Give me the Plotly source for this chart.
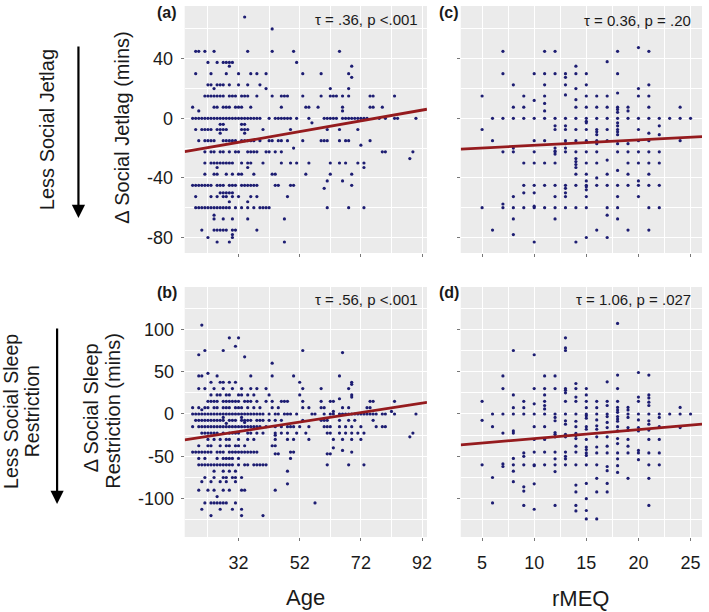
import plotly.graph_objects as go

W, H = 709, 612

# ---------------- Panel (a): Age vs Δ Social Jetlag (mins) ----------------
# each entry of A_LEVELS is a Δ value; A_AGES holds the ages of the dots on that level
A_LEVELS = [68, 60, 45, 37.5, 35, 30, 27.5, 22.5, 20, 15, 7.5, 5, 0, -3, -4, -7.5, -10,
            -15, -18, -20, -22.5, -27, -30, -33, -37.5, -42, -45, -47, -50, -52.5, -56,
            -60, -65, -67.5, -75, -78, -80, -83]
A_AGES = [
    [34],
    [43],
    [18, 19, 21, 24, 35, 43, 50, 65],
    [22, 25, 27, 28, 29, 30, 51],
    [29, 69],
    [18, 23, 28, 32, 36, 38, 41, 53, 59, 68],
    [69],
    [22, 23, 25, 26, 27, 29, 32, 35, 39],
    [24, 41, 62, 68],
    [21, 22, 23, 24, 25, 26, 27, 29, 30, 31, 33, 34, 35, 38, 43, 46, 47, 48, 53, 59, 62, 63, 64, 66, 68, 75, 76, 83],
    [17, 24, 25, 27, 28, 29, 31, 32, 33, 36, 46, 54, 55, 58, 66, 75, 76, 79],
    [19, 66],
    [17, 18, 19, 20, 21, 22, 23, 24, 25, 26, 27, 28, 29, 30, 31, 32, 33, 34, 35, 36, 37, 38, 39,
     42, 44, 45, 46, 47, 48, 49, 51, 55, 60, 61, 62, 63, 64, 66, 67, 68, 69, 70, 71, 72, 73, 74, 78, 80, 83, 84, 90],
    [56],
    [26, 27, 33, 34],
    [18, 20, 21, 22, 23, 25, 26, 27, 28, 33, 34, 35, 40, 49, 61, 65, 71],
    [26, 34],
    [19, 21, 22, 23, 24, 27, 28, 29, 30, 31, 33, 34, 35, 36, 37, 39, 42, 43, 45, 46, 48, 53, 59, 60, 61, 65, 67, 68, 75],
    [72],
    [50],
    [21, 23, 24, 26, 27, 29, 31, 32, 35, 36, 37, 38, 41, 42, 44, 46, 79, 80, 89],
    [88],
    [21, 23, 24, 25, 26, 27, 28, 29, 30, 33, 35, 36, 40, 46, 49, 51, 55, 62, 65, 67, 71, 73],
    [25, 35, 73],
    [21, 24, 25, 28, 30, 32, 33, 37, 43, 44, 54, 62, 69],
    [61, 66],
    [17, 18, 19, 20, 21, 22, 23, 25, 26, 27, 29, 30, 31, 33, 34, 35, 36, 37, 38, 44, 45, 49, 50, 69],
    [60],
    [26, 27, 28, 29, 30],
    [18, 23, 25, 27, 28, 30, 32, 36, 38, 48],
    [29, 35],
    [18, 19, 20, 21, 22, 23, 24, 25, 26, 27, 28, 29, 31, 33, 35, 37, 39, 40, 41, 42, 61, 68, 73],
    [24],
    [24, 27, 30, 35, 47],
    [20, 24, 25, 26, 27, 28, 30, 31, 38],
    [30],
    [22, 30],
    [25, 29, 47],
]

# ---------------- Panel (b): Age vs Δ Social Sleep Restriction (mins) ----------------
B_LEVELS = [105, 90, 80, 75, 72.5, 70, 67.5, 60, 48, 45, 37.5, 35, 30, 22.5, 20, 18, 15, 7.5, 5, 3,
            0, -4, -7.5, -10, -11, -15, -22.5, -25, -27, -30, -37.5, -40, -43, -45, -47, -52.5,
            -60, -67.5, -75, -80, -82.5, -90, -97.5, -105, -112.5, -120]
B_AGES = [
    [20],
    [29, 32],
    [31],
    [21, 27, 53],
    [66],
    [19],
    [34],
    [43],
    [22],
    [19, 20, 25, 36, 43, 50, 65],
    [23, 26, 27, 29, 31, 52, 69],
    [69],
    [19, 21, 24, 27, 30, 33, 36, 38, 41, 53, 59, 68],
    [23, 25, 26, 28, 29, 32, 33, 35, 37, 42, 52, 69],
    [69],
    [65],
    [22, 23, 24, 25, 27, 28, 29, 30, 31, 32, 34, 35, 36, 38, 41, 43, 46, 47, 48, 53, 59, 62, 63, 75, 76, 83],
    [17, 19, 21, 22, 24, 25, 27, 28, 29, 31, 32, 33, 35, 37, 39, 43, 45, 53, 55, 59, 60, 66, 68, 74, 75],
    [20],
    [63, 82],
    [17, 18, 19, 20, 21, 22, 23, 24, 25, 26, 27, 28, 29, 30, 31, 32, 33, 34, 35, 36, 37, 38, 39, 40,
     42, 44, 45, 47, 48, 49, 51, 56, 57, 60, 62, 63, 65, 66, 67, 68, 69, 70, 71, 72, 73, 74, 75, 76, 77, 79, 80, 83, 90],
    [27, 33],
    [18, 19, 20, 21, 22, 23, 24, 25, 26, 27, 29, 30, 31, 33, 34, 35, 36, 38, 39, 40, 42, 44, 46, 53, 59, 60, 61, 65, 68, 70, 76],
    [34],
    [28],
    [17, 19, 20, 21, 22, 23, 24, 25, 26, 27, 28, 29, 30, 31, 32, 33, 34, 35, 36, 37, 38, 39, 41, 44, 46,
     48, 49, 50, 52, 55, 60, 61, 62, 65, 67, 69, 72, 77, 79, 80],
    [20, 21, 22, 23, 24, 25, 27, 29, 30, 31, 32, 35, 36, 38, 40, 44, 46, 48, 51, 54, 61, 62, 65, 67, 69, 71, 73, 89],
    [44],
    [88],
    [22, 24, 26, 28, 29, 32, 35, 37, 44, 48, 50, 55, 63, 66, 69, 72],
    [19, 22, 23, 26, 28, 29, 31, 32, 34, 43, 44],
    [63],
    [66],
    [17, 18, 19, 20, 21, 22, 23, 25, 26, 27, 29, 30, 31, 32, 33, 34, 35, 36, 37, 38, 49, 50, 69],
    [44, 45, 61, 62],
    [19, 21, 25, 27, 28, 29, 30, 32, 49],
    [19, 20, 21, 22, 23, 24, 25, 26, 27, 28, 29, 30, 32, 34, 35, 37, 38, 39, 40, 41, 61, 68, 73],
    [24, 27, 29, 31, 48],
    [21, 24, 27, 28, 30, 31, 33],
    [20, 23, 26, 28, 31],
    [48],
    [19, 22, 24, 27, 29, 33, 34, 44],
    [25],
    [21, 23, 24, 25, 26, 27, 28, 31, 57],
    [20, 26, 30, 33],
    [23, 33, 40],
]

# ---------------- Panels (c) and (d): rMEQ columns ----------------
RMEQ = [5, 6, 7, 8, 9, 10, 11, 12, 13, 14, 15, 16, 17, 18, 19, 20, 21, 22, 23, 24, 25]
C_SJL = [
    [15, -7.5, -60],
    [0, -15, -75],
    [45, 30, 0, -22.5, -57.5, -60],
    [22.5, 7.5, 0, -20, -22.5, -52.5, -60, -67.5, -78],
    [15, 7.5, 0, -30, -45, -50, -60],
    [30, 12, 0, -15, -22.5, -30, -45, -50, -59, -60, -83],
    [45, 30, 22.5, 15, 10, 5, 0, -15, -30, -45, -60],
    [45, 30, 0, -5, -7.5, -20, -22, -22.5, -24, -30, -45, -52.5, -60, -67.5],
    [30, 27.5, 22.5, 15.7, 0, -5, -7.5, -15, -17, -20, -22.5, -45, -47, -50, -52.5, -60],
    [35, 30, 20, 12.5, 7.5, 0, -7.5, -15, -22.5, -27, -29, -31, -33, -37.5, -45, -60, -83],
    [30, 22.5, 15, 7.5, 0, -2, -3, -7.5, -15, -16, -22.5, -30, -37.5, -42, -45, -46, -48, -52.5, -60, -80],
    [15, 7.5, 0, -7.5, -9, -11, -15, -17, -22.5, -30, -40, -45, -75],
    [38, 15, 7.5, 0, -7.5, -15, -28, -37.5, -45, -60, -65, -80],
    [45, 30, 17, 7.5, 6, 4, 0, -3, -5, -7.5, -9, -11, -17, -22.5, -35, -45, -52.5, -60, -67.5],
    [7.5, 5, 0, -17, -22.5, -30, -37.5, -45, -75],
    [47.5, 20, 15, 0, -7.5, -15, -22.5, -30, -42, -45, -52.5],
    [45, 22.5, 15, 7.5, 0, -10, -15, -22.5, -30, -37.5, -45, -60, -75],
    [0, -5, -11, -22.5, -30, -45, -60],
    [0],
    [7.5, 0, -15],
    [0],
]
D_SSR = [
    [15, -7.5, -60],
    [0, -15, -75, -105],
    [45, 30, 0, -22.5, -59, -62],
    [75, 22.5, 7.5, 0, -20, -22.5, -52.5, -60, -67.5, -80],
    [15, 7.5, 0, -46, -50, -60, -86, -91, -108],
    [70, 30, 12, 0, -15, -30, -45, -60, -61, -82.5, -112.5],
    [45, 30, 22.5, 15, 10, 6, 0, -15, -30, -45, -60],
    [45, 30, 0, -4, -8, -22, -24, -27, -45, -53, -60, -68, -108],
    [90, 78, 75, 30, 28, 25, 15, 0, -8, -12, -24, -27, -45, -50, -53, -60],
    [36, 30, 20, 15, 0, -8.6, -15, -23, -25.5, -29, -38, -45, -60, -84, -92, -108, -114.5],
    [30, 22.5, 15, 7.5, 0, -2, -5, -15, -18, -30, -39, -42, -46, -49, -60, -82, -100, -114, -124],
    [15, 7.5, 0, -7, -14, -18, -27, -39, -46, -60, -76, -92, -124],
    [38, 15, 10, 0, -3, -10, -16, -27, -38, -46, -62, -67, -82, -92],
    [107, 46, 30, 15, 7.8, 4.7, 2, -3, -6, -8.6, -15, -20, -29, -35, -46, -53, -61, -69],
    [7.8, 4.7, 0, -4, -16, -19, -30, -38, -46, -76],
    [49, 20, 15, 0, -7, -16, -20, -43, -46, -54],
    [46, 22.5, 19, 14, 10, 0, -8, -12, -19, -30, -46, -60, -76, -108],
    [0, -4, -15, -30, -46, -60],
    [0],
    [7.8, 0, -16],
    [0],
]

# fitted regression lines (intercept, slope)
FIT_A = (-27.6, 0.36)
FIT_B = (-38.7, 0.56)
FIT_C = (-21.7, 0.36)
FIT_D = (-39.7, 1.06)

STATS_A = "τ = .36, p <.001"
STATS_B = "τ = .56, p <.001"
STATS_C = "τ = 0.36, p = .20"
STATS_D = "τ = 1.06, p = .027"

AGE_RANGE = [14.4, 93.6]
RMEQ_RANGE = [2.95, 26.1]
SJL_RANGE = [-90.4, 75.4]
SSR_RANGE = [-145.3, 150]

AGE_TICKS = [32, 52, 72, 92]
AGE_LABELS = ["32", "52", "72", "92"]
AGE_MINOR = [22, 42, 62, 82]
RMEQ_TICKS = [5, 10, 15, 20, 25]
RMEQ_LABELS = ["5", "10", "15", "20", "25"]
RMEQ_MINOR = [7.5, 12.5, 17.5, 22.5]
SJL_TICKS = [-80, -40, 0, 40]
SJL_LABELS = ["-80", "-40", "0", "40"]
SJL_MINOR = [-60, -20, 20, 60]
SSR_TICKS = [-100, -50, 0, 50, 100]
SSR_LABELS = ["-100", "-50", "0", "50", "100"]
SSR_MINOR = [-125, -75, -25, 25, 75, 125]

assert len(A_LEVELS) == len(A_AGES) and len(B_LEVELS) == len(B_AGES)
assert len(RMEQ) == len(C_SJL) == len(D_SSR)


def rows_to_xy(levels, groups):
    xs, ys = [], []
    for lv, g in zip(levels, groups):
        for v in g:
            xs.append(v)
            ys.append(lv)
    return xs, ys


def cols_to_xy(cols, groups):
    xs, ys = [], []
    for c, g in zip(cols, groups):
        for v in g:
            xs.append(c)
            ys.append(v)
    return xs, ys


DOT = "#1d1d72"
LINE = "#951b1e"
FONT = "Liberation Sans, Arial, sans-serif"
TXT = "#1a1a1a"

fig = go.Figure()

specs = [
    ("x", "y", rows_to_xy(A_LEVELS, A_AGES), FIT_A, AGE_RANGE),
    ("x2", "y2", cols_to_xy(RMEQ, C_SJL), FIT_C, RMEQ_RANGE),
    ("x3", "y3", rows_to_xy(B_LEVELS, B_AGES), FIT_B, AGE_RANGE),
    ("x4", "y4", cols_to_xy(RMEQ, D_SSR), FIT_D, RMEQ_RANGE),
]

for xa, ya, (xs, ys), (b0, b1), xr in specs:
    fig.add_trace(go.Scatter(x=xs, y=ys, mode="markers", xaxis=xa, yaxis=ya,
                             marker=dict(size=3.2, color=DOT, line=dict(width=0)),
                             showlegend=False, hoverinfo="skip"))
    fig.add_trace(go.Scatter(x=[xr[0], xr[1]], y=[b0 + b1 * xr[0], b0 + b1 * xr[1]],
                             mode="lines", xaxis=xa, yaxis=ya,
                             line=dict(color=LINE, width=2.8),
                             showlegend=False, hoverinfo="skip"))


def px(x):
    return x / W


def py(y):
    return 1 - y / H


def axis(domain, rng, ticks, labels, minor, show, anchor, standoff):
    return dict(domain=domain, range=rng, anchor=anchor, tickvals=ticks, ticktext=labels,
                showticklabels=show, ticks="outside", ticklen=3, tickwidth=1,
                tickcolor="#777777", showgrid=True, gridcolor="white", gridwidth=1.2,
                minor=dict(tickvals=minor, showgrid=True, gridcolor="white", gridwidth=0.6),
                zeroline=False, showline=False,
                tickfont=dict(family=FONT, size=18, color=TXT), ticklabelstandoff=standoff)


XL, XR = 186, 430
X2L, X2R = 464, 707
TOP_T, TOP_B = 6, 253
BOT_T, BOT_B = 287, 537

fig.update_layout(
    width=W, height=H, margin=dict(l=0, r=0, t=0, b=0),
    paper_bgcolor="white", plot_bgcolor="#EBEBEB",
    xaxis=axis([px(XL), px(XR)], AGE_RANGE, AGE_TICKS, AGE_LABELS, AGE_MINOR, False, "y", 6),
    yaxis=axis([py(TOP_B), py(TOP_T)], SJL_RANGE, SJL_TICKS, SJL_LABELS, SJL_MINOR, True, "x", 4),
    xaxis2=axis([px(X2L), px(X2R)], RMEQ_RANGE, RMEQ_TICKS, RMEQ_LABELS, RMEQ_MINOR, False, "y2", 6),
    yaxis2=axis([py(TOP_B), py(TOP_T)], SJL_RANGE, SJL_TICKS, SJL_LABELS, SJL_MINOR, False, "x2", 4),
    xaxis3=axis([px(XL), px(XR)], AGE_RANGE, AGE_TICKS, AGE_LABELS, AGE_MINOR, True, "y3", 6),
    yaxis3=axis([py(BOT_B), py(BOT_T)], SSR_RANGE, SSR_TICKS, SSR_LABELS, SSR_MINOR, True, "x3", 3),
    xaxis4=axis([px(X2L), px(X2R)], RMEQ_RANGE, RMEQ_TICKS, RMEQ_LABELS, RMEQ_MINOR, True, "y4", 6),
    yaxis4=axis([py(BOT_B), py(BOT_T)], SSR_RANGE, SSR_TICKS, SSR_LABELS, SSR_MINOR, False, "x4", 4),
)


def ann(text, x, y, size, angle=0, xanchor="center", bold=False):
    if bold:
        text = "<b>" + text + "</b>"
    return dict(text=text, x=px(x), y=py(y), xref="paper", yref="paper",
                xanchor=xanchor, yanchor="middle", showarrow=False, textangle=angle,
                font=dict(family=FONT, size=size, color=TXT))


annotations = [
    ann("(a)", 168, 12.5, 16, bold=True),
    ann("(b)", 168, 292, 16, bold=True),
    ann("(c)", 452, 12.5, 16, bold=True),
    ann("(d)", 452, 292, 16, bold=True),
    ann(STATS_A, 423, 20, 15, xanchor="right"),
    ann(STATS_C, 698, 20.5, 15, xanchor="right"),
    ann(STATS_B, 423, 299, 15, xanchor="right"),
    ann(STATS_D, 698, 299, 15, xanchor="right"),
    ann("Age", 308, 597, 22),
    ann("rMEQ", 585, 598, 22),
    ann("Less Social Jetlag", 47.5, 130, 20, angle=-90),
    ann("Δ Social Jetlag (mins)", 122.5, 128, 20, angle=-90),
    ann("Less Social Sleep", 11, 411, 19.5, angle=-90),
    ann("Restriction", 32.5, 411, 19.5, angle=-90),
    ann("Δ Social Sleep", 92, 408, 20, angle=-90),
    ann("Restriction (mins)", 113.5, 411, 20, angle=-90),
    dict(x=px(79), y=py(218), xref="paper", yref="paper", ax=0, ay=-173,
         showarrow=True, arrowhead=2, arrowsize=1.2, arrowwidth=2.2, arrowcolor="black", text=""),
    dict(x=px(57.5), y=py(504), xref="paper", yref="paper", ax=0, ay=-177,
         showarrow=True, arrowhead=2, arrowsize=1.2, arrowwidth=2.2, arrowcolor="black", text=""),
]
fig.update_layout(annotations=annotations)

fig.write_html("out.html", config={"displayModeBar": False},
               post_script="document.body.style.margin='0';document.body.style.overflow='hidden';")
